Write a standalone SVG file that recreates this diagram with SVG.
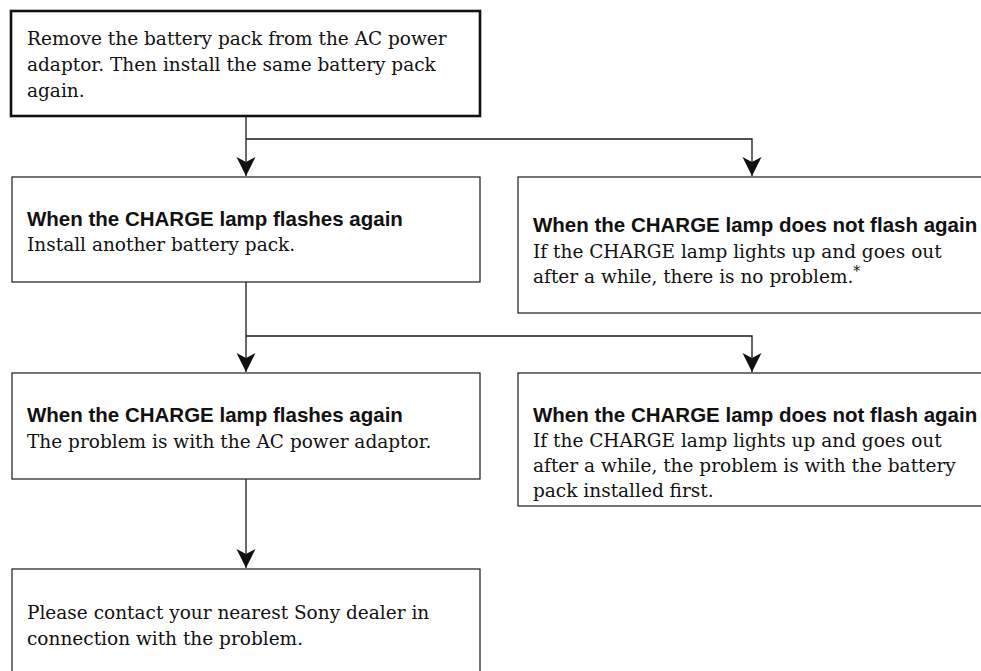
<svg xmlns="http://www.w3.org/2000/svg" width="981" height="671" viewBox="0 0 981 671">
<style>
  .box { fill: #ffffff; stroke: #1a1a1a; stroke-width: 1.2; }
  .box-thick { fill: #ffffff; stroke: #111111; stroke-width: 2.6; }
  .conn { fill: none; stroke: #1a1a1a; stroke-width: 1.3; }
  .body { font-family: "DejaVu Serif", "Liberation Serif", serif; font-size: 18.5px; fill: #111111; }
  .head { font-family: "Liberation Sans", Arial, sans-serif; font-weight: bold; font-size: 20.5px; fill: #111111; }
  .sup { font-size: 14px; }
</style>
<defs>
  <marker id="arrow" viewBox="-20 -10 20 20" refX="0" refY="0" markerWidth="20" markerHeight="20" markerUnits="userSpaceOnUse" orient="auto">
    <path d="M0,0 L-19,-9.5 L-14,0 L-19,9.5 Z" fill="#111111"/>
  </marker>
</defs>
<rect width="981" height="671" fill="#ffffff"/>

<g id="connectors">
  <path class="conn" d="M246,117 V176" marker-end="url(#arrow)"/>
  <path class="conn" d="M246,139 H752 V176" marker-end="url(#arrow)"/>
  <path class="conn" d="M246,282 V372" marker-end="url(#arrow)"/>
  <path class="conn" d="M246,336 H752 V372" marker-end="url(#arrow)"/>
  <path class="conn" d="M246,479 V568" marker-end="url(#arrow)"/>
</g>

<g id="start">
  <rect class="box-thick" x="11" y="11" width="469" height="105"/>
  <text class="body" x="27" y="45">Remove the battery pack from the AC power</text>
  <text class="body" x="27" y="71">adaptor. Then install the same battery pack</text>
  <text class="body" x="27" y="97">again.</text>
</g>

<g id="flash1">
  <rect class="box" x="12" y="177" width="468" height="105"/>
  <text class="head" x="27" y="226">When the CHARGE lamp flashes again</text>
  <text class="body" x="27" y="251">Install another battery pack.</text>
</g>

<g id="noflash1">
  <rect class="box" x="518" y="177" width="480" height="136"/>
  <text class="head" x="533" y="232">When the CHARGE lamp does not flash again</text>
  <text class="body" x="533" y="258">If the CHARGE lamp lights up and goes out</text>
  <text class="body" x="533" y="283">after a while, there is no problem.<tspan class="sup" dy="-7">*</tspan></text>
</g>

<g id="flash2">
  <rect class="box" x="12" y="373" width="468" height="106"/>
  <text class="head" x="27" y="422">When the CHARGE lamp flashes again</text>
  <text class="body" x="27" y="448">The problem is with the AC power adaptor.</text>
</g>

<g id="noflash2">
  <rect class="box" x="518" y="373" width="480" height="133"/>
  <text class="head" x="533" y="422">When the CHARGE lamp does not flash again</text>
  <text class="body" x="533" y="447">If the CHARGE lamp lights up and goes out</text>
  <text class="body" x="533" y="472">after a while, the problem is with the battery</text>
  <text class="body" x="533" y="497">pack installed first.</text>
</g>

<g id="dealer">
  <rect class="box" x="12" y="569" width="468" height="120"/>
  <text class="body" x="27" y="619">Please contact your nearest Sony dealer in</text>
  <text class="body" x="27" y="645">connection with the problem.</text>
</g>
</svg>
